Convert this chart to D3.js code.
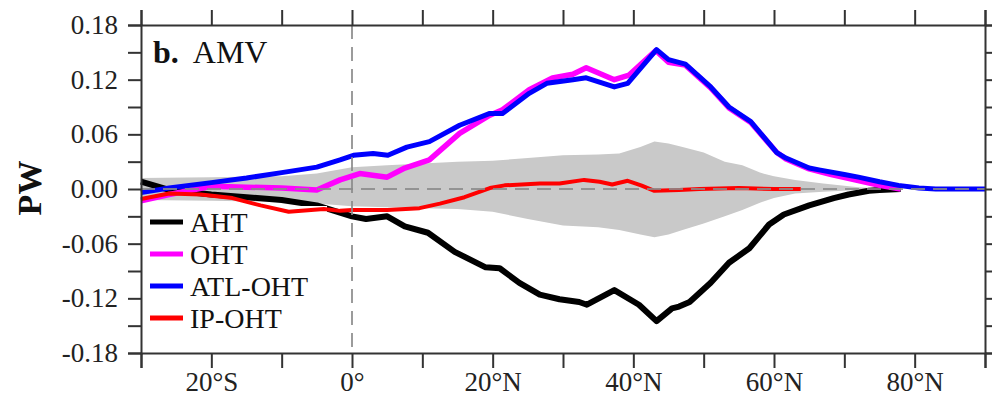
<!DOCTYPE html>
<meta charset="utf-8">
<style>
body { margin: 0; background: #fff; }
svg { display: block; font-family: "Liberation Serif", "Times New Roman", serif; }
</style>
<script src="https://d3js.org/d3.v7.min.js"></script>
<body>
<svg width="992" height="396"></svg>
<script>

// latitude / PW values
var ahtLat = [-30, -26, -20, -15, -10, -5, 0, 2, 5, 7.5, 10.8, 14.6, 19, 21, 23.8, 26.7, 29.5, 32.3, 33.4, 37.3, 40.8, 43.3, 45.5, 46.5, 48, 51, 53.6, 56.5, 59.3, 61.4, 65, 68.5, 70.6, 73.5, 75, 78];
var ahtVal = [0.008, -0.001, -0.006, -0.009, -0.012, -0.018, -0.030, -0.033, -0.030, -0.041, -0.048, -0.069, -0.086, -0.087, -0.103, -0.116, -0.121, -0.124, -0.127, -0.111, -0.127, -0.145, -0.131, -0.129, -0.124, -0.103, -0.081, -0.065, -0.039, -0.028, -0.018, -0.010, -0.006, -0.002, -0.001, 0.0];

var ohtLat = [-30, -26, -20, -15, -10, -5, -1.7, 1.1, 5, 7.5, 11, 15.3, 19.6, 21.4, 25.2, 28.5, 31.4, 33.3, 37.3, 39.4, 43.2, 45, 47.4, 51, 53.6, 56.7, 60.4, 61.7, 65, 68, 71.5, 75, 78];
var ohtVal = [-0.013, -0.006, 0.003, 0.002, 0.001, -0.001, 0.010, 0.017, 0.013, 0.023, 0.032, 0.061, 0.081, 0.087, 0.109, 0.122, 0.126, 0.133, 0.120, 0.125, 0.152, 0.139, 0.136, 0.111, 0.089, 0.073, 0.040, 0.033, 0.022, 0.016, 0.010, 0.004, 0.0];

var atlLat = [-30, -26, -20, -15, -10, -5, -1.7, 0.2, 3, 5.1, 7.8, 11, 15.3, 19.6, 21.4, 25.2, 27.7, 31.4, 33.3, 37.3, 39.2, 43.3, 45, 47.4, 51, 53.6, 56.7, 60.4, 61.7, 65, 66.4, 70, 72, 75, 77.7, 80.6, 83, 90];
var atlVal = [-0.004, 0.001, 0.007, 0.012, 0.018, 0.024, 0.032, 0.037, 0.039, 0.037, 0.046, 0.052, 0.070, 0.083, 0.083, 0.105, 0.116, 0.120, 0.122, 0.112, 0.116, 0.153, 0.142, 0.137, 0.112, 0.090, 0.074, 0.040, 0.034, 0.023, 0.021, 0.016, 0.013, 0.008, 0.004, 0.001, 0.0, 0.0];

var ipLat = [-30, -26, -21.5, -17, -13, -9, -4, -1.7, 0, 5, 9.6, 12.5, 16, 19.6, 21.7, 26.7, 29.5, 33, 35.2, 37, 39.2, 41.1, 43, 46.5, 49.4, 55, 60, 63.8];
var ipVal = [-0.011, -0.005, -0.006, -0.010, -0.018, -0.025, -0.022, -0.024, -0.023, -0.023, -0.021, -0.016, -0.009, 0.001, 0.004, 0.006, 0.006, 0.010, 0.008, 0.005, 0.009, 0.004, -0.002, -0.001, 0.0, 0.001, 0.0, 0.0];

// significance envelope (grey band)
var bandLat = [-30, -20, -10, -5, 0, 5, 10, 15, 20, 25, 30, 35, 38, 41, 43, 45, 47, 50, 53, 55.5, 58, 60, 63, 67, 72, 76];
var bandHi = [0.012, 0.013, 0.014, 0.017, 0.024, 0.026, 0.028, 0.030, 0.031, 0.034, 0.037, 0.038, 0.039, 0.046, 0.052, 0.050, 0.046, 0.040, 0.030, 0.026, 0.018, 0.014, 0.010, 0.006, 0.002, 0.0];
var bandLo = [-0.012, -0.013, -0.014, -0.016, -0.019, -0.020, -0.021, -0.022, -0.025, -0.033, -0.040, -0.042, -0.045, -0.050, -0.053, -0.050, -0.045, -0.038, -0.030, -0.023, -0.015, -0.010, -0.005, -0.003, -0.001, 0.0];

var xTickLabels = ["20°S", "0°", "20°N", "40°N", "60°N", "80°N"];
var xTickVals = [-20, 0, 20, 40, 60, 80];
var legendNames = ["AHT", "OHT", "ATL-OHT", "IP-OHT"];
var legendColors = ["#000000", "#ff00ff", "#0000ff", "#ff0000"];

var svg = d3.select("svg"),
    padL = 141, padR = 985, padT = 25, padB = 353;

var x = d3.scaleLinear().domain([-30, 90]).range([padL, padR]);
var y = d3.scaleLinear().domain([-0.18, 0.18]).range([padB, padT]);

function zip(lat, val) { return lat.map(function(d, i) { return [d, val[i]]; }); }

var line = d3.line()
    .x(function(d) { return x(d[0]); })
    .y(function(d) { return y(d[1]); });

var plot = svg.append("g");

// grey band
var area = d3.area()
    .x(function(d, i) { return x(bandLat[i]); })
    .y0(function(d, i) { return y(bandLo[i]); })
    .y1(function(d, i) { return y(bandHi[i]); });
plot.append("path")
    .datum(bandLat)
    .attr("d", area)
    .attr("fill", "#c9c9c9");

function drawSeries(lat, val, color, width) {
  plot.append("path")
      .datum(zip(lat, val))
      .attr("d", line)
      .attr("fill", "none")
      .attr("stroke", color)
      .attr("stroke-width", width)
      .attr("stroke-linejoin", "round");
}

drawSeries(ahtLat, ahtVal, legendColors[0], 6);
drawSeries(ohtLat, ohtVal, legendColors[1], 5.5);
drawSeries(atlLat, atlVal, legendColors[2], 5);

// legend box hides what is under it
plot.append("rect")
    .attr("x", padL + 2).attr("y", 206)
    .attr("width", 184).attr("height", 132)
    .attr("fill", "#fff");

drawSeries(ipLat, ipVal, legendColors[3], 4);

// zero lines (dashed)
plot.append("line")
    .attr("x1", padL).attr("x2", padR)
    .attr("y1", y(0)).attr("y2", y(0))
    .attr("stroke", "#8a8a8a").attr("stroke-width", 2)
    .attr("stroke-dasharray", "14,8").attr("opacity", 0.85);
plot.append("line")
    .attr("x1", x(0)).attr("x2", x(0))
    .attr("y1", padT).attr("y2", padB)
    .attr("stroke", "#8a8a8a").attr("stroke-width", 2)
    .attr("stroke-dasharray", "14,8").attr("opacity", 0.85);

// axes
var xMinor = d3.range(-30, 91, 10);
var yTicks = d3.range(-6, 7).map(function(d) { return d * 0.03; });

function styleAxis(g) {
  g.select(".domain").attr("stroke", "#333").attr("stroke-width", 2);
  g.selectAll(".tick line").attr("stroke", "#333").attr("stroke-width", 2);
}

svg.append("g")
    .attr("transform", "translate(0," + padB + ")")
    .call(d3.axisBottom(x).tickValues(xMinor).tickSizeOuter(0).tickSize(15).tickPadding(4)
      .tickFormat(function(d) { var i = xTickVals.indexOf(d); return i < 0 ? "" : xTickLabels[i]; }))
    .call(styleAxis);

svg.append("g")
    .attr("transform", "translate(0," + padT + ")")
    .call(d3.axisTop(x).tickValues(xMinor).tickSizeOuter(0).tickSize(15).tickFormat(""))
    .call(styleAxis);

svg.append("g")
    .attr("transform", "translate(" + padL + ",0)")
    .call(d3.axisLeft(y).tickValues(yTicks).tickSizeOuter(0).tickSize(13).tickPadding(10)
      .tickFormat(function(d, i) { return (i % 2 === 0) ? d3.format(".2f")(d).replace("\u2212", "-") : ""; }))
    .call(styleAxis);

svg.append("g")
    .attr("transform", "translate(" + padR + ",0)")
    .call(d3.axisRight(y).tickValues(yTicks).tickSizeOuter(0).tickSize(13).tickFormat(""))
    .call(styleAxis);

svg.selectAll(".tick text")
    .attr("font-family", "Liberation Serif")
    .attr("font-size", 27)
    .attr("fill", "#222");

// y label
svg.append("text")
    .attr("transform", "translate(41,188) rotate(-90)")
    .attr("text-anchor", "middle")
    .attr("font-size", 34).attr("font-weight", "bold")
    .attr("fill", "#111")
    .text("PW");

// panel title
var title = svg.append("text")
    .attr("x", 153).attr("y", 63)
    .attr("font-size", 32).attr("fill", "#111");
title.append("tspan").attr("font-weight", "bold").text("b.");
title.append("tspan").attr("dx", 14).text("AMV");

// legend
var leg = svg.append("g");
legendNames.forEach(function(name, i) {
  var cy = 222 + i * 32;
  leg.append("line")
      .attr("x1", 150).attr("x2", 183)
      .attr("y1", cy).attr("y2", cy)
      .attr("stroke", legendColors[i]).attr("stroke-width", 5);
  leg.append("text")
      .attr("x", 190).attr("y", cy + 10)
      .attr("font-size", 28).attr("fill", "#111")
      .text(name);
});

</script>
</body>
